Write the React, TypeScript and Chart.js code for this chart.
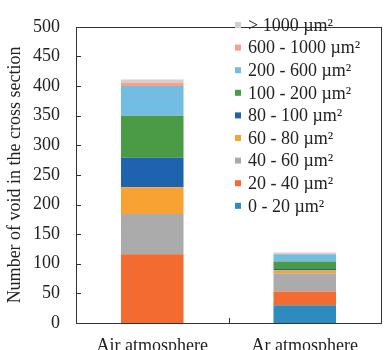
import React, { useEffect, useRef } from "react";
import { Chart, registerables } from "chart.js";

Chart.register(...registerables);

const categories = ["Air atmosphere", "Ar atmosphere"];
const seriesLabels = [
  "0 - 20 µm²",
  "20 - 40 µm²",
  "40 - 60 µm²",
  "60 - 80 µm²",
  "80 - 100 µm²",
  "100 - 200 µm²",
  "200 - 600 µm²",
  "600 - 1000 µm²",
  "> 1000 µm²",
];
const airValues = [0, 116, 68, 45, 50, 71, 50, 6, 5];
const arValues = [30, 23, 31, 5, 2, 13, 12, 1, 2];
const seriesColors = [
  "#2e8bc0",
  "#f36b30",
  "#ababab",
  "#f7a233",
  "#1f62ad",
  "#4a9a46",
  "#74bde2",
  "#f7a08c",
  "#d0d0d0",
];
const yTicks = [0, 50, 100, 150, 200, 250, 300, 350, 400, 450, 500];

const FONT = "'Liberation Serif', 'Times New Roman', serif";

const framePlugin = {
  id: "frame",
  afterDatasetsDraw(chart: any) {
    const { ctx, chartArea } = chart;
    const { left, right, top, bottom } = chartArea;
    const y = chart.scales.y;
    const x = chart.scales.x;
    ctx.save();
    ctx.strokeStyle = "#333";
    ctx.lineWidth = 1;
    ctx.strokeRect(Math.round(left) + 0.5, Math.round(top) + 0.5, Math.round(right - left), Math.round(bottom - top));
    ctx.beginPath();
    for (const v of yTicks) {
      const py = Math.round(y.getPixelForValue(v)) + 0.5;
      ctx.moveTo(left, py);
      ctx.lineTo(left + 5, py);
    }
    for (let i = 0; i < categories.length - 1; i++) {
      const px = Math.round((x.getPixelForValue(i) + x.getPixelForValue(i + 1)) / 2) + 0.5;
      ctx.moveTo(px, bottom);
      ctx.lineTo(px, bottom - 5);
    }
    ctx.stroke();

    // legend
    const lx = 235;
    const ly0 = 25;
    const step = 22.6;
    ctx.font = `18px ${FONT}`;
    ctx.textBaseline = "middle";
    ctx.textAlign = "left";
    const n = seriesLabels.length;
    for (let k = 0; k < n; k++) {
      const idx = n - 1 - k;
      const cy = ly0 + k * step;
      ctx.fillStyle = seriesColors[idx];
      ctx.fillRect(lx, cy - 3, 6, 6);
      ctx.fillStyle = "#222";
      ctx.fillText(seriesLabels[idx], lx + 13, cy + 1);
    }
    ctx.restore();
  },
};

export default function App() {
  const ref = useRef<HTMLCanvasElement | null>(null);
  useEffect(() => {
    if (!ref.current) return;
    const chart = new Chart(ref.current, {
      type: "bar",
      data: {
        labels: categories,
        datasets: seriesLabels.map((label, i) => ({
          label,
          data: [airValues[i], arValues[i]],
          backgroundColor: seriesColors[i],
          borderWidth: 0,
          categoryPercentage: 1,
          barPercentage: 0.41,
        })),
      },
      options: {
        animation: false,
        responsive: true,
        maintainAspectRatio: false,
        layout: { padding: { top: 13, right: 5, left: 0, bottom: 0 } },
        plugins: {
          legend: { display: false },
          tooltip: { enabled: false },
        },
        scales: {
          x: {
            stacked: true,
            grid: { display: false, drawTicks: false },
            border: { display: false },
            ticks: {
              color: "#222",
              font: { family: FONT, size: 18 },
              padding: 12,
            },
            afterFit: (s: any) => {
              s.height = 27;
            },
          },
          y: {
            stacked: true,
            min: 0,
            max: 500,
            grid: { display: false, drawTicks: false },
            border: { display: false },
            ticks: {
              stepSize: 50,
              color: "#222",
              font: { family: FONT, size: 18 },
              padding: 16,
            },
            title: {
              display: true,
              text: "Number of void in the cross section",
              color: "#222",
              font: { family: FONT, size: 18 },
              padding: { top: 4, bottom: 0 },
            },
            afterFit: (s: any) => {
              s.width = 76;
            },
          },
        },
      },
      plugins: [framePlugin],
    });
    return () => chart.destroy();
  }, []);
  return (
    <div style={{ position: "fixed", left: 0, top: 0, width: 386, height: 350, background: "#fff" }}>
      <canvas ref={ref} />
    </div>
  );
}
